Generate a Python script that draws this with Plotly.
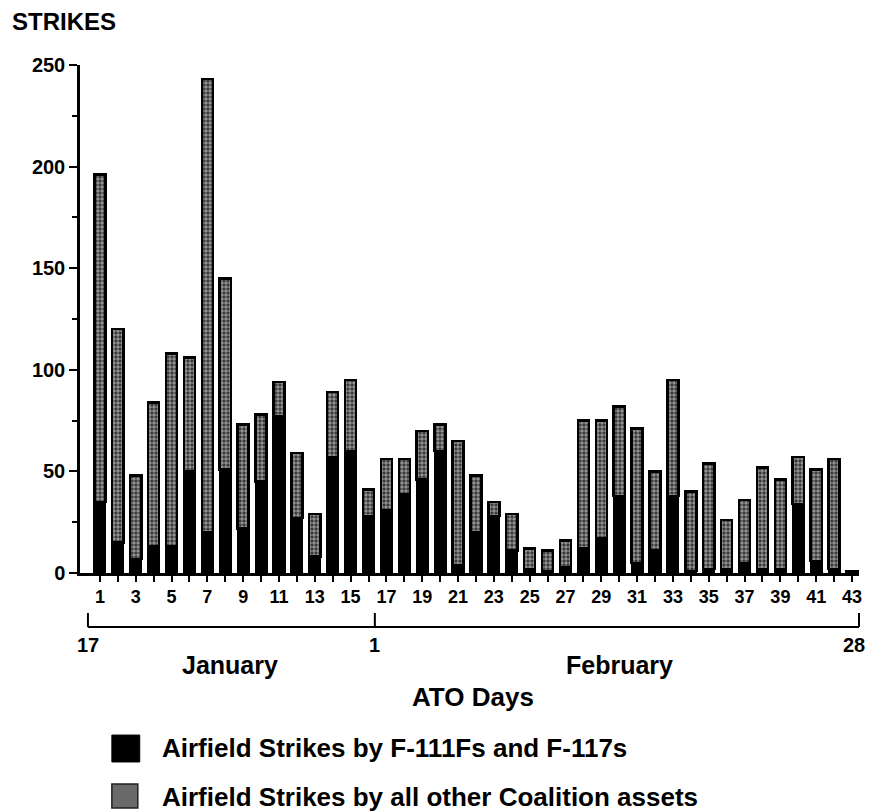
import plotly.graph_objects as go

# ATO days
days = list(range(1, 44))
# Airfield strikes by F-111Fs and F-117s (black, bottom)
f111_f117 = [35, 15, 7, 13, 13, 50, 20, 51, 22, 45, 77, 27, 8, 57, 60, 28, 31, 39, 46, 60,
             4, 20, 28, 11, 2, 1, 3, 12, 17, 38, 5, 11, 38, 1, 2, 2, 5, 2, 2, 34, 6, 2, 1]
# Airfield strikes by all other Coalition assets (stippled, top)
other_assets = [161, 105, 41, 71, 95, 56, 223, 94, 51, 33, 17, 32, 21, 32, 35, 13, 25, 17, 24, 13,
                61, 28, 7, 18, 10, 10, 13, 63, 58, 44, 66, 39, 57, 39, 52, 24, 31, 50, 44, 23, 45, 54, 0]
tick_labels = [str(d) if d % 2 == 1 else "" for d in days]
y_ticks = [0, 50, 100, 150, 200, 250]

FONT = "Liberation Sans, Arial, Helvetica, sans-serif"

fig = go.Figure()
fig.add_trace(go.Bar(
    x=days, y=f111_f117, name="Airfield Strikes by F-111Fs and F-117s",
    marker=dict(color="black", line=dict(color="black", width=2)),
    width=0.62, showlegend=False,
))
fig.add_trace(go.Bar(
    x=days, y=other_assets, name="Airfield Strikes by all other Coalition assets",
    marker=dict(color="#333333", line=dict(color="black", width=2.5),
                pattern=dict(shape=".", fgcolor="#f2f2f2", bgcolor="#303030", size=4, solidity=0.6)),
    width=0.62, showlegend=False,
))

# page body has an 8px margin, so the figure is drawn 8px in from the window corner
fig.update_layout(
    barmode="stack",
    width=865, height=804,
    margin=dict(l=72, r=11, t=57, b=239),
    plot_bgcolor="white", paper_bgcolor="white",
    font=dict(family=FONT, color="black", size=17, weight="bold"),
)
fig.update_xaxes(
    range=[-0.11, 43.39], tickvals=days, ticktext=tick_labels,
    showline=True, linecolor="black", linewidth=2.5, mirror=False,
    ticks="outside", ticklen=6, tickwidth=2, tickcolor="black",
    showgrid=False, zeroline=False,
    tickfont=dict(family=FONT, size=18, weight="bold"),
)
fig.update_yaxes(
    range=[0, 250], tickvals=y_ticks,
    showline=True, linecolor="black", linewidth=2.5,
    ticks="outside", ticklen=8, tickwidth=2, tickcolor="black",
    minor=dict(dtick=25, ticks="outside", ticklen=5, tickwidth=2, tickcolor="black"),
    showgrid=False, zeroline=False,
    tickfont=dict(family=FONT, size=20, weight="bold"),
)

ann = []
def txt(x, y, s, size, xanchor="center", yanchor="middle"):
    ann.append(dict(x=x, y=y, xref="paper", yref="paper", text=s, showarrow=False,
                    xanchor=xanchor, yanchor=yanchor,
                    font=dict(family=FONT, size=size, color="black", weight="bold")))

# y-axis title
txt(-0.09, 1.085, "STRIKES", 24, xanchor="left")
# timeline labels
txt(0.0102, -0.1417, "17", 20)
txt(0.3785, -0.1417, "1", 20)
txt(0.993, -0.1417, "28", 20)
txt(0.192, -0.181, "January", 25)
txt(0.693, -0.181, "February", 25)
txt(0.504, -0.244, "ATO Days", 26)
# legend text
txt(0.1023, -0.3445, "Airfield Strikes by F-111Fs and F-117s", 26, xanchor="left")
txt(0.1023, -0.441, "Airfield Strikes by all other Coalition assets", 26, xanchor="left")
fig.update_layout(annotations=ann)

shapes = [
    # timeline bracket
    dict(type="line", xref="paper", yref="paper", x0=0.0102, x1=1.0, y0=-0.1063, y1=-0.1063,
         line=dict(color="black", width=2)),
    dict(type="line", xref="paper", yref="paper", x0=0.0102, x1=0.0102, y0=-0.1063, y1=-0.0787,
         line=dict(color="black", width=2)),
    dict(type="line", xref="paper", yref="paper", x0=0.3785, x1=0.3785, y0=-0.1063, y1=-0.0787,
         line=dict(color="black", width=2)),
    dict(type="line", xref="paper", yref="paper", x0=1.0, x1=1.0, y0=-0.1063, y1=-0.0787,
         line=dict(color="black", width=2)),
    # legend swatches
    dict(type="rect", xref="paper", yref="paper", x0=0.0409, x1=0.0767, y0=-0.372, y1=-0.319,
         fillcolor="black", line=dict(color="black", width=1)),
    dict(type="rect", xref="paper", yref="paper", x0=0.0409, x1=0.0742, y0=-0.4626, y1=-0.4154,
         fillcolor="#6a6a6a", line=dict(color="#222", width=1.5)),
]
fig.update_layout(shapes=shapes)

fig.write_html("out.html")
